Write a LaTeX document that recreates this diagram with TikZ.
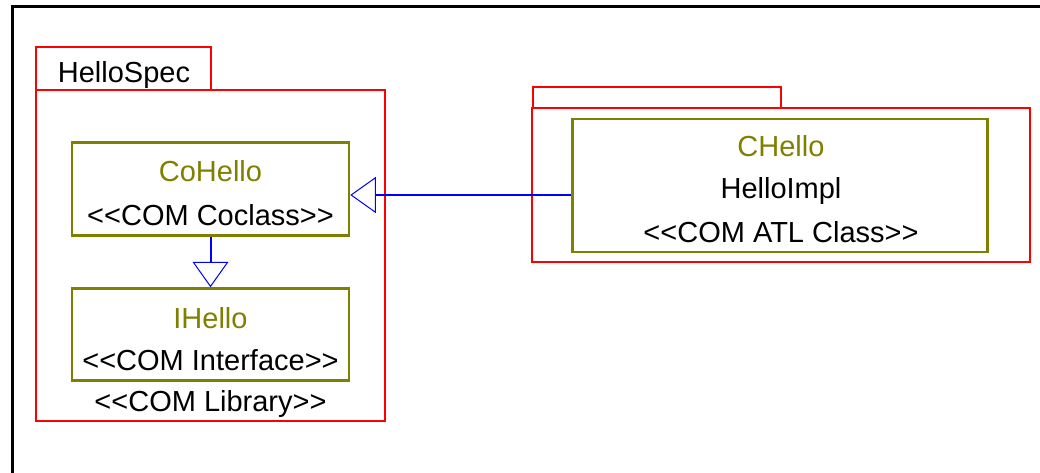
\documentclass[tikz,border=0pt]{standalone}
\usepackage{fontspec}
\setmainfont{Liberation Sans}[Ligatures=TeXOff]
\usetikzlibrary{arrows.meta}
\definecolor{umlred}{RGB}{255,0,0}
\definecolor{umlolive}{RGB}{128,128,0}
\definecolor{umlblue}{RGB}{0,0,255}
\tikzset{
  pkg/.style={draw=umlred, line width=2pt, inner sep=0pt, minimum width=0pt, rectangle},
  cls/.style={draw=umlolive, line width=2.5pt, inner sep=0pt, rectangle},
  lbl/.style={inner sep=0pt, anchor=base, font=\fontsize{29}{34}\selectfont},
  namelbl/.style={lbl, text=umlolive},
  gen/.style={draw=umlblue, line width=2pt,
    -{Triangle[open, length=25.5pt, width=36pt, line width=1pt, fill=white]}}
}
\begin{document}
\begin{tikzpicture}[x=1pt, y=-1pt]
\useasboundingbox (0,0) rectangle (1040,473);
\clip (0,0) rectangle (1040,473);
\fill[white] (0,0) rectangle (1040,473);
% outer frame
\draw[black, line width=3pt] (12,490) -- (12,7) -- (1060,7);
% HelloSpec package
\node[pkg, minimum width=175pt, minimum height=43pt] (spectab) at (123.5,68.5) {};
\node[pkg, minimum width=349pt, minimum height=331pt] (specbody) at (210.5,255.5) {};
\node[lbl] (spectitle) at (124,83) {HelloSpec};
% CoHello
\node[cls, minimum width=277pt, minimum height=93pt] (cohello) at (210.5,189) {};
\node[namelbl] (cohelloname) at (210.5,182) {CoHello};
\node[lbl] (cohellost) at (210.5,225) {<<COM Coclass>>};
% IHello
\node[cls, minimum width=277pt, minimum height=92pt] (ihello) at (210.5,334.5) {};
\node[namelbl] (ihelloname) at (210.5,328) {IHello};
\node[lbl] (ihellost) at (210.5,370) {<<COM Interface>>};
\node[lbl] (libst) at (210.5,411) {<<COM Library>>};
% HelloImpl package
\node[pkg, minimum width=248pt, minimum height=21pt] (impltab) at (657,97.5) {};
\node[pkg, minimum width=498pt, minimum height=154pt] (implbody) at (781,185) {};
% CHello
\node[cls, minimum width=415pt, minimum height=133pt] (chello) at (780,185.5) {};
\node[namelbl] (chelloname) at (781,157) {CHello};
\node[lbl] (chelloimpl) at (781,198) {HelloImpl};
\node[lbl] (chellost) at (781,242) {<<COM ATL Class>>};
% generalisations
\draw[gen] (chello.west |- 0,195) -- (cohello.east |- 0,195);
\draw[gen] (cohello.south) -- (ihello.north);
\end{tikzpicture}
\end{document}
